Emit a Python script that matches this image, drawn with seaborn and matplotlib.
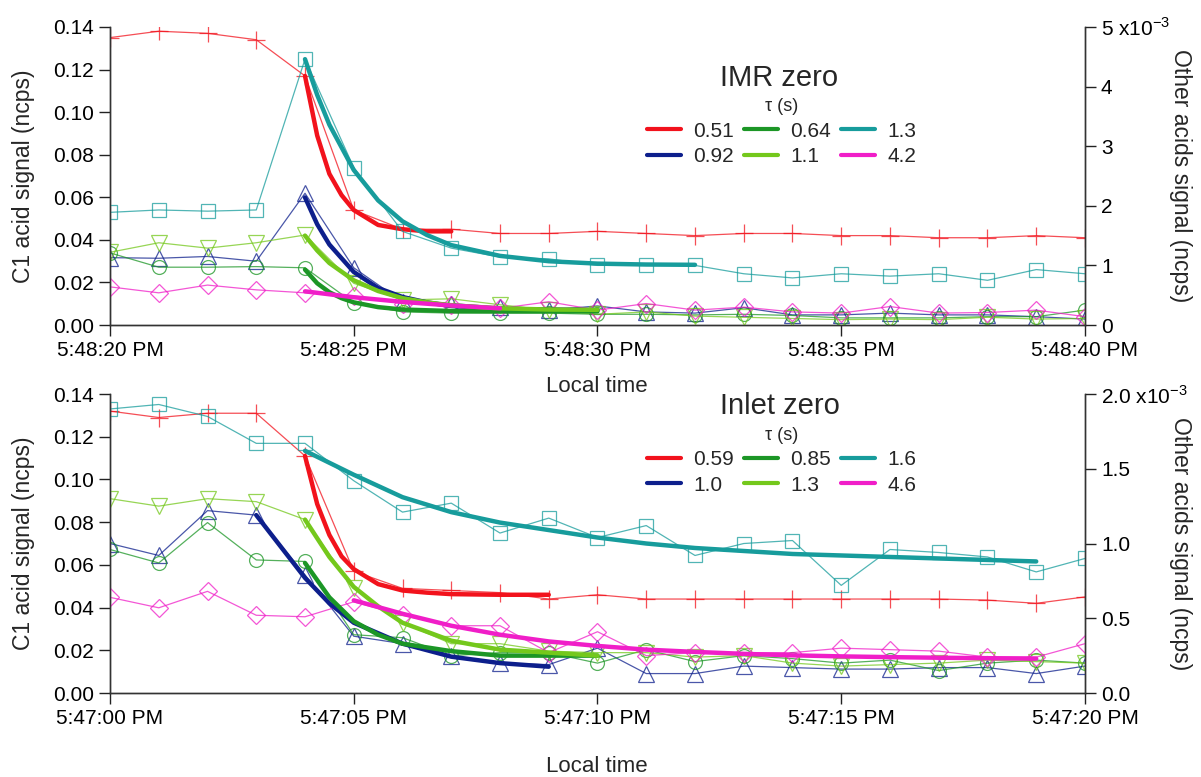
import seaborn as sns
import matplotlib.pyplot as plt

sns.set_theme(style='ticks')
plt.rcParams['font.family'] = ['Liberation Sans', 'DejaVu Sans']

seconds = list(range(21))
x_ticks = [0, 5, 10, 15, 20]
imr_ticklabels = ['5:48:20 PM', '5:48:25 PM', '5:48:30 PM', '5:48:35 PM', '5:48:40 PM']
inlet_ticklabels = ['5:47:00 PM', '5:47:05 PM', '5:47:10 PM', '5:47:15 PM', '5:47:20 PM']

# IMR zero. C1 acid in ncps (left axis), other acids in 1e-3 ncps (right axis)
imr_c1 = [0.135, 0.138, 0.137, 0.134, 0.117, 0.054, 0.045, 0.045, 0.043, 0.043, 0.044,
          0.043, 0.042, 0.043, 0.043, 0.042, 0.042, 0.041, 0.041, 0.042, 0.041]
imr_teal = [1.89, 1.93, 1.91, 1.93, 4.46, 2.64, 1.57, 1.29, 1.14, 1.11, 1.0,
            1.0, 1.0, 0.86, 0.79, 0.86, 0.82, 0.86, 0.75, 0.93, 0.86]
imr_navy = [1.13, 1.12, 1.15, 1.07, 2.21, 0.96, 0.39, 0.36, 0.30, 0.25, 0.32,
            0.22, 0.20, 0.29, 0.17, 0.17, 0.20, 0.17, 0.17, 0.14, 0.10]
imr_lime = [1.22, 1.38, 1.29, 1.38, 1.51, 0.70, 0.42, 0.44, 0.34, 0.25, 0.18,
            0.22, 0.15, 0.13, 0.11, 0.09, 0.10, 0.09, 0.13, 0.10, 0.11]
imr_green = [1.21, 0.97, 0.97, 0.98, 0.96, 0.37, 0.22, 0.20, 0.20, 0.20, 0.18,
             0.18, 0.17, 0.18, 0.16, 0.12, 0.12, 0.12, 0.14, 0.14, 0.25]
imr_pink = [0.64, 0.54, 0.67, 0.59, 0.54, 0.49, 0.36, 0.34, 0.28, 0.39, 0.25,
            0.36, 0.25, 0.30, 0.22, 0.20, 0.31, 0.20, 0.21, 0.25, 0.14]

imr_c1_fit_t = [4, 4.25, 4.5, 4.75, 5, 5.5, 6, 6.5, 7]
imr_c1_fit = [0.117, 0.089, 0.071, 0.061, 0.054, 0.047, 0.045, 0.044, 0.044]
imr_teal_fit_t = [4, 4.25, 4.5, 5, 5.5, 6, 6.5, 7, 8, 9, 10, 11, 12]
imr_teal_fit = [4.46, 3.86, 3.36, 2.60, 2.09, 1.74, 1.51, 1.34, 1.16, 1.07, 1.03, 1.015, 1.01]
imr_navy_fit_t = [4, 4.25, 4.5, 5, 5.5, 6, 6.5, 7, 8, 9, 10]
imr_navy_fit = [2.14, 1.69, 1.35, 0.89, 0.62, 0.47, 0.38, 0.32, 0.27, 0.26, 0.25]
imr_lime_fit_t = [4, 4.25, 4.5, 5, 5.5, 6, 6.5, 7, 8, 9, 10]
imr_lime_fit = [1.50, 1.25, 1.04, 0.75, 0.57, 0.45, 0.38, 0.33, 0.28, 0.26, 0.255]
imr_green_fit_t = [4, 4.25, 4.5, 4.75, 5, 5.5, 6, 7, 8, 9, 10]
imr_green_fit = [0.93, 0.70, 0.55, 0.45, 0.38, 0.30, 0.26, 0.235, 0.23, 0.23, 0.23]
imr_pink_fit_t = [4, 5, 6, 7, 8]
imr_pink_fit = [0.565, 0.466, 0.388, 0.327, 0.28]
imr_taus = ['0.51', '0.92', '0.64', '1.1', '1.3', '4.2']

# Inlet zero
inlet_c1 = [0.132, 0.129, 0.131, 0.131, 0.111, 0.057, 0.049, 0.048, 0.047, 0.044, 0.046,
            0.044, 0.044, 0.044, 0.044, 0.044, 0.044, 0.044, 0.0435, 0.042, 0.045]
inlet_teal = [1.90, 1.93, 1.85, 1.67, 1.67, 1.42, 1.21, 1.27, 1.07, 1.17, 1.04,
              1.12, 0.92, 1.00, 1.02, 0.72, 0.96, 0.94, 0.91, 0.81, 0.90]
inlet_navy = [1.00, 0.92, 1.22, 1.19, 0.79, 0.38, 0.33, 0.25, 0.20, 0.19, 0.30,
              0.13, 0.13, 0.18, 0.17, 0.16, 0.16, 0.17, 0.17, 0.13, 0.18]
inlet_lime = [1.30, 1.25, 1.30, 1.28, 1.16, 0.70, 0.47, 0.33, 0.33, 0.28, 0.27,
              0.27, 0.24, 0.25, 0.20, 0.18, 0.19, 0.20, 0.22, 0.21, 0.20]
inlet_green = [0.96, 0.87, 1.14, 0.89, 0.88, 0.39, 0.37, 0.25, 0.27, 0.27, 0.20,
               0.29, 0.21, 0.25, 0.23, 0.20, 0.22, 0.15, 0.20, 0.22, 0.20]
inlet_pink = [0.64, 0.57, 0.68, 0.52, 0.51, 0.61, 0.52, 0.45, 0.45, 0.27, 0.41,
              0.25, 0.27, 0.27, 0.27, 0.30, 0.29, 0.28, 0.24, 0.24, 0.33]

inlet_c1_fit_t = [4, 4.25, 4.5, 4.75, 5, 5.5, 6, 6.5, 7, 8, 9]
inlet_c1_fit = [0.111, 0.0885, 0.074, 0.064, 0.058, 0.051, 0.048, 0.047, 0.0463, 0.046, 0.046]
inlet_teal_fit_t = [4, 4.5, 5, 6, 7, 8, 9, 10, 11, 12, 13, 14, 15, 16, 17, 18, 19]
inlet_teal_fit = [1.62, 1.54, 1.46, 1.31, 1.21, 1.14, 1.09, 1.04, 1.00, 0.97, 0.95,
                  0.93, 0.92, 0.91, 0.90, 0.89, 0.88]
inlet_navy_fit_t = [3, 3.5, 4, 4.5, 5, 5.5, 6, 7, 8, 9]
inlet_navy_fit = [1.19, 0.98, 0.77, 0.60, 0.47, 0.40, 0.33, 0.243, 0.20, 0.176]
inlet_lime_fit_t = [4, 4.5, 5, 5.5, 6, 7, 8, 9, 10]
inlet_lime_fit = [1.16, 0.91, 0.71, 0.58, 0.47, 0.35, 0.29, 0.27, 0.25]
inlet_green_fit_t = [4, 4.5, 5, 5.5, 6, 7, 8, 9, 10]
inlet_green_fit = [0.87, 0.64, 0.48, 0.39, 0.33, 0.28, 0.25, 0.25, 0.25]
inlet_pink_fit_t = [5, 6, 7, 8, 9, 10, 11, 12, 13, 14, 15, 16, 17, 18, 19]
inlet_pink_fit = [0.62, 0.53, 0.45, 0.39, 0.345, 0.315, 0.29, 0.275, 0.262, 0.252,
                  0.245, 0.24, 0.236, 0.233, 0.23]
inlet_taus = ['0.59', '1.0', '0.85', '1.3', '1.6', '4.6']

colors = {'red': '#f2121c', 'navy': '#0d1f8c', 'green': '#1c9626', 'lime': '#74c81c',
          'teal': '#179c9c', 'pink': '#f01ec8'}
markers = {'red': '+', 'navy': '^', 'green': 'o', 'lime': 'v', 'teal': 's', 'pink': 'D'}
msize = {'red': 13, 'navy': 11, 'green': 10, 'lime': 11, 'teal': 10.5, 'pink': 9.5}
order = ['red', 'navy', 'green', 'lime', 'teal', 'pink']


def draw_panel(ax, data, fits, taus, other_labels, ticklabels, title, title_y, leg_y):
    ax2 = ax.twinx()
    for key in order:
        target = ax if key == 'red' else ax2
        sns.lineplot(x=seconds, y=data[key], ax=target, color=colors[key], lw=0.9, alpha=0.75,
                     marker=markers[key], markersize=msize[key], markerfacecolor='none',
                     markeredgecolor=colors[key], markeredgewidth=0.9)
    handles = []
    for key, tau in zip(order, taus):
        target = ax if key == 'red' else ax2
        ft, fy = fits[key]
        sns.lineplot(x=ft, y=fy, ax=target, color=colors[key], lw=3.2, label=tau)
        handles.append(target.get_lines()[-1])
    for a in (ax, ax2):
        if a.get_legend():
            a.get_legend().remove()

    ax.set_xlim(0, 20)
    ax.set_ylim(0, 0.14)
    ax.set_yticks([0, 0.02, 0.04, 0.06, 0.08, 0.10, 0.12, 0.14])
    ax.set_yticklabels(['0.00', '0.02', '0.04', '0.06', '0.08', '0.10', '0.12', '0.14'])
    ax.set_xticks(x_ticks)
    ax.set_xticklabels(ticklabels)
    top = float(other_labels[-1])
    ax2.set_ylim(0, top)
    n = len(other_labels)
    ax2.set_yticks([top * i / (n - 1) for i in range(n)])
    ax2.set_yticklabels(other_labels[:-1] + [other_labels[-1] + r' x10$^{\mathregular{-3}}$'])

    for a in (ax, ax2):
        a.spines['top'].set_visible(False)
        a.tick_params(direction='out', length=8, width=1, labelsize=15, colors='#222222',
                      labelcolor='black')
        for s in a.spines.values():
            s.set_linewidth(1)
            s.set_color('#333333')
    ax.set_ylabel('C1 acid signal (ncps)', fontsize=16.5)
    ax.yaxis.set_label_coords(-0.077, 0.5)
    ax2.set_ylabel('Other acids signal (ncps)', fontsize=16.5, rotation=270, va='center')
    ax2.yaxis.set_label_coords(1.098, 0.5)
    ax.set_xlabel('')

    fig.text(0.649, title_y, title, fontsize=21, ha='center', va='center')
    leg = ax2.legend(handles, taus, ncol=3, title='τ (s)', frameon=False, loc='center',
                     bbox_to_anchor=(0.651, leg_y), bbox_transform=fig.transFigure,
                     fontsize=15, title_fontsize=13, handlelength=1.6, columnspacing=0.5,
                     handletextpad=0.6, labelspacing=0.3, borderpad=0.2)
    for line in leg.get_lines():
        line.set_linewidth(3)


fig = plt.figure(figsize=(12.01, 7.77), dpi=100)
ax_top = fig.add_axes([0.0916, 0.5817, 0.8118, 0.3836])
ax_bot = fig.add_axes([0.0916, 0.1081, 0.8118, 0.3848])

imr_data = {'red': imr_c1, 'navy': imr_navy, 'green': imr_green, 'lime': imr_lime,
            'teal': imr_teal, 'pink': imr_pink}
imr_fits = {'red': (imr_c1_fit_t, imr_c1_fit), 'navy': (imr_navy_fit_t, imr_navy_fit),
            'green': (imr_green_fit_t, imr_green_fit), 'lime': (imr_lime_fit_t, imr_lime_fit),
            'teal': (imr_teal_fit_t, imr_teal_fit), 'pink': (imr_pink_fit_t, imr_pink_fit)}
inlet_data = {'red': inlet_c1, 'navy': inlet_navy, 'green': inlet_green, 'lime': inlet_lime,
              'teal': inlet_teal, 'pink': inlet_pink}
inlet_fits = {'red': (inlet_c1_fit_t, inlet_c1_fit), 'navy': (inlet_navy_fit_t, inlet_navy_fit),
              'green': (inlet_green_fit_t, inlet_green_fit),
              'lime': (inlet_lime_fit_t, inlet_lime_fit),
              'teal': (inlet_teal_fit_t, inlet_teal_fit), 'pink': (inlet_pink_fit_t, inlet_pink_fit)}

draw_panel(ax_top, imr_data, imr_fits, imr_taus, ['0', '1', '2', '3', '4', '5'],
           imr_ticklabels, 'IMR zero', 0.9, 0.83)
draw_panel(ax_bot, inlet_data, inlet_fits, inlet_taus, ['0.0', '0.5', '1.0', '1.5', '2.0'],
           inlet_ticklabels, 'Inlet zero', 0.478, 0.407)

fig.text(0.497, 0.503, 'Local time', fontsize=16, ha='center', va='center')
fig.text(0.497, 0.014, 'Local time', fontsize=16, ha='center', va='center')

fig.savefig('out.png', dpi=100)
